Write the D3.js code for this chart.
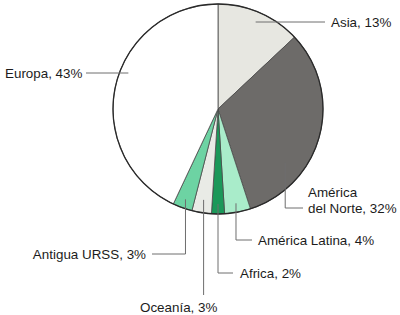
<!DOCTYPE html>
<html>
<head>
<meta charset="utf-8">
<script src="https://cdn.jsdelivr.net/npm/d3@7"></script>
<style>
  body { margin: 0; background: #fff; }
  text { font-family: "Liberation Sans", Arial, sans-serif; font-size: 13.4px; fill: #1c1c1c; }
</style>
</head>
<body>
<div id="chart"></div>
<script>
// regions, clockwise from 12 o'clock
var regions = ["Asia", "América del Norte", "América Latina", "Africa", "Oceanía", "Antigua URSS", "Europa"];
var shares = [13, 32, 4, 2, 3, 3, 43];
var labels = [["Asia, 13%"], ["América", "del Norte, 32%"], ["América Latina, 4%"], ["Africa, 2%"],
              ["Oceanía, 3%"], ["Antigua URSS, 3%"], ["Europa, 43%"]];
var colors = ["#e7e7e1", "#6d6b69", "#a9ecca", "#1b9859", "#e9ebe6", "#6dd3a3", "#ffffff"];

var width = 400, height = 315;
var cx = 218, cy = 109, R = 105;

var svg = d3.select("#chart").append("svg")
    .attr("width", width)
    .attr("height", height);

var pie = d3.pie().sort(null).value(function(d) { return d; });
var arcs = pie(shares);
var arc = d3.arc().innerRadius(0).outerRadius(R);

var g = svg.append("g").attr("transform", "translate(" + cx + "," + cy + ")");

g.selectAll("path.slice")
    .data(arcs)
    .enter()
    .append("path")
    .attr("class", "slice")
    .attr("d", arc)
    .attr("fill", function(d, i) { return colors[i]; })
    .attr("stroke", "#4a4a4a")
    .attr("stroke-width", 0.8);

g.append("circle")
    .attr("r", R)
    .attr("fill", "none")
    .attr("stroke", "#2a2a2a")
    .attr("stroke-width", 1.3);

// label layout: where each leader starts inside its slice (fraction of the slice angle, radius)
// and where it bends / where its text sits
var layout = [
    {f: 0.5,  r: 92, route: "h",  ly: 22,  lx: 325, tx: 331, ty: 22,  anchor: "start"},
    {f: 0.71, r: 86, route: "vh", ly: 208, lx: 303, tx: 308, ty: 192, anchor: "start"},
    {f: 0.5,  r: 96, route: "vh", ly: 240, lx: 252, tx: 258, ty: 240, anchor: "start"},
    {f: 0.5,  r: 95, route: "vh", ly: 273, lx: 233, tx: 240, ty: 273, anchor: "start"},
    {f: 0.5,  r: 92, route: "v",  ly: 295, lx: 0,   tx: 140, ty: 307, anchor: "start"},
    {f: 0.5,  r: 96, route: "vh", ly: 254, lx: 152, tx: 146, ty: 254, anchor: "end"},
    {f: 0,    r: 0,  route: "e",  ly: 73,  lx: 86,  tx: 5,   ty: 73,  anchor: "start"}
];

function polar(a, r) {
    return [cx + r * Math.sin(a), cy - r * Math.cos(a)];
}

arcs.forEach(function(d, i) {
    var L = layout[i];
    var a = d.startAngle + L.f * (d.endAngle - d.startAngle);
    var p = polar(a, L.r);
    var pts;
    if (L.route === "h") {
        // horizontal at label height, starting on the slice's ray
        var x0 = cx + (cy - L.ly) * Math.tan(a);
        pts = [[x0, L.ly], [L.lx, L.ly]];
    } else if (L.route === "e") {
        // enters the circle a little at label height
        var xc = cx - Math.sqrt(R * R - (L.ly - cy) * (L.ly - cy));
        pts = [[xc + 9, L.ly], [L.lx, L.ly]];
    } else if (L.route === "v") {
        pts = [p, [p[0], L.ly]];
    } else {
        pts = [p, [p[0], L.ly], [L.lx, L.ly]];
    }
    svg.append("path")
        .attr("d", d3.line()(pts))
        .attr("fill", "none")
        .attr("stroke", "#6e6e6e")
        .attr("stroke-width", 1);

    var t = svg.append("text")
        .attr("x", L.tx)
        .attr("y", L.ty)
        .attr("text-anchor", L.anchor);
    labels[i].forEach(function(s, k) {
        t.append("tspan").attr("x", L.tx).attr("dy", k === 0 ? "0.35em" : "1.2em").text(s);
    });
});
</script>
</body>
</html>
